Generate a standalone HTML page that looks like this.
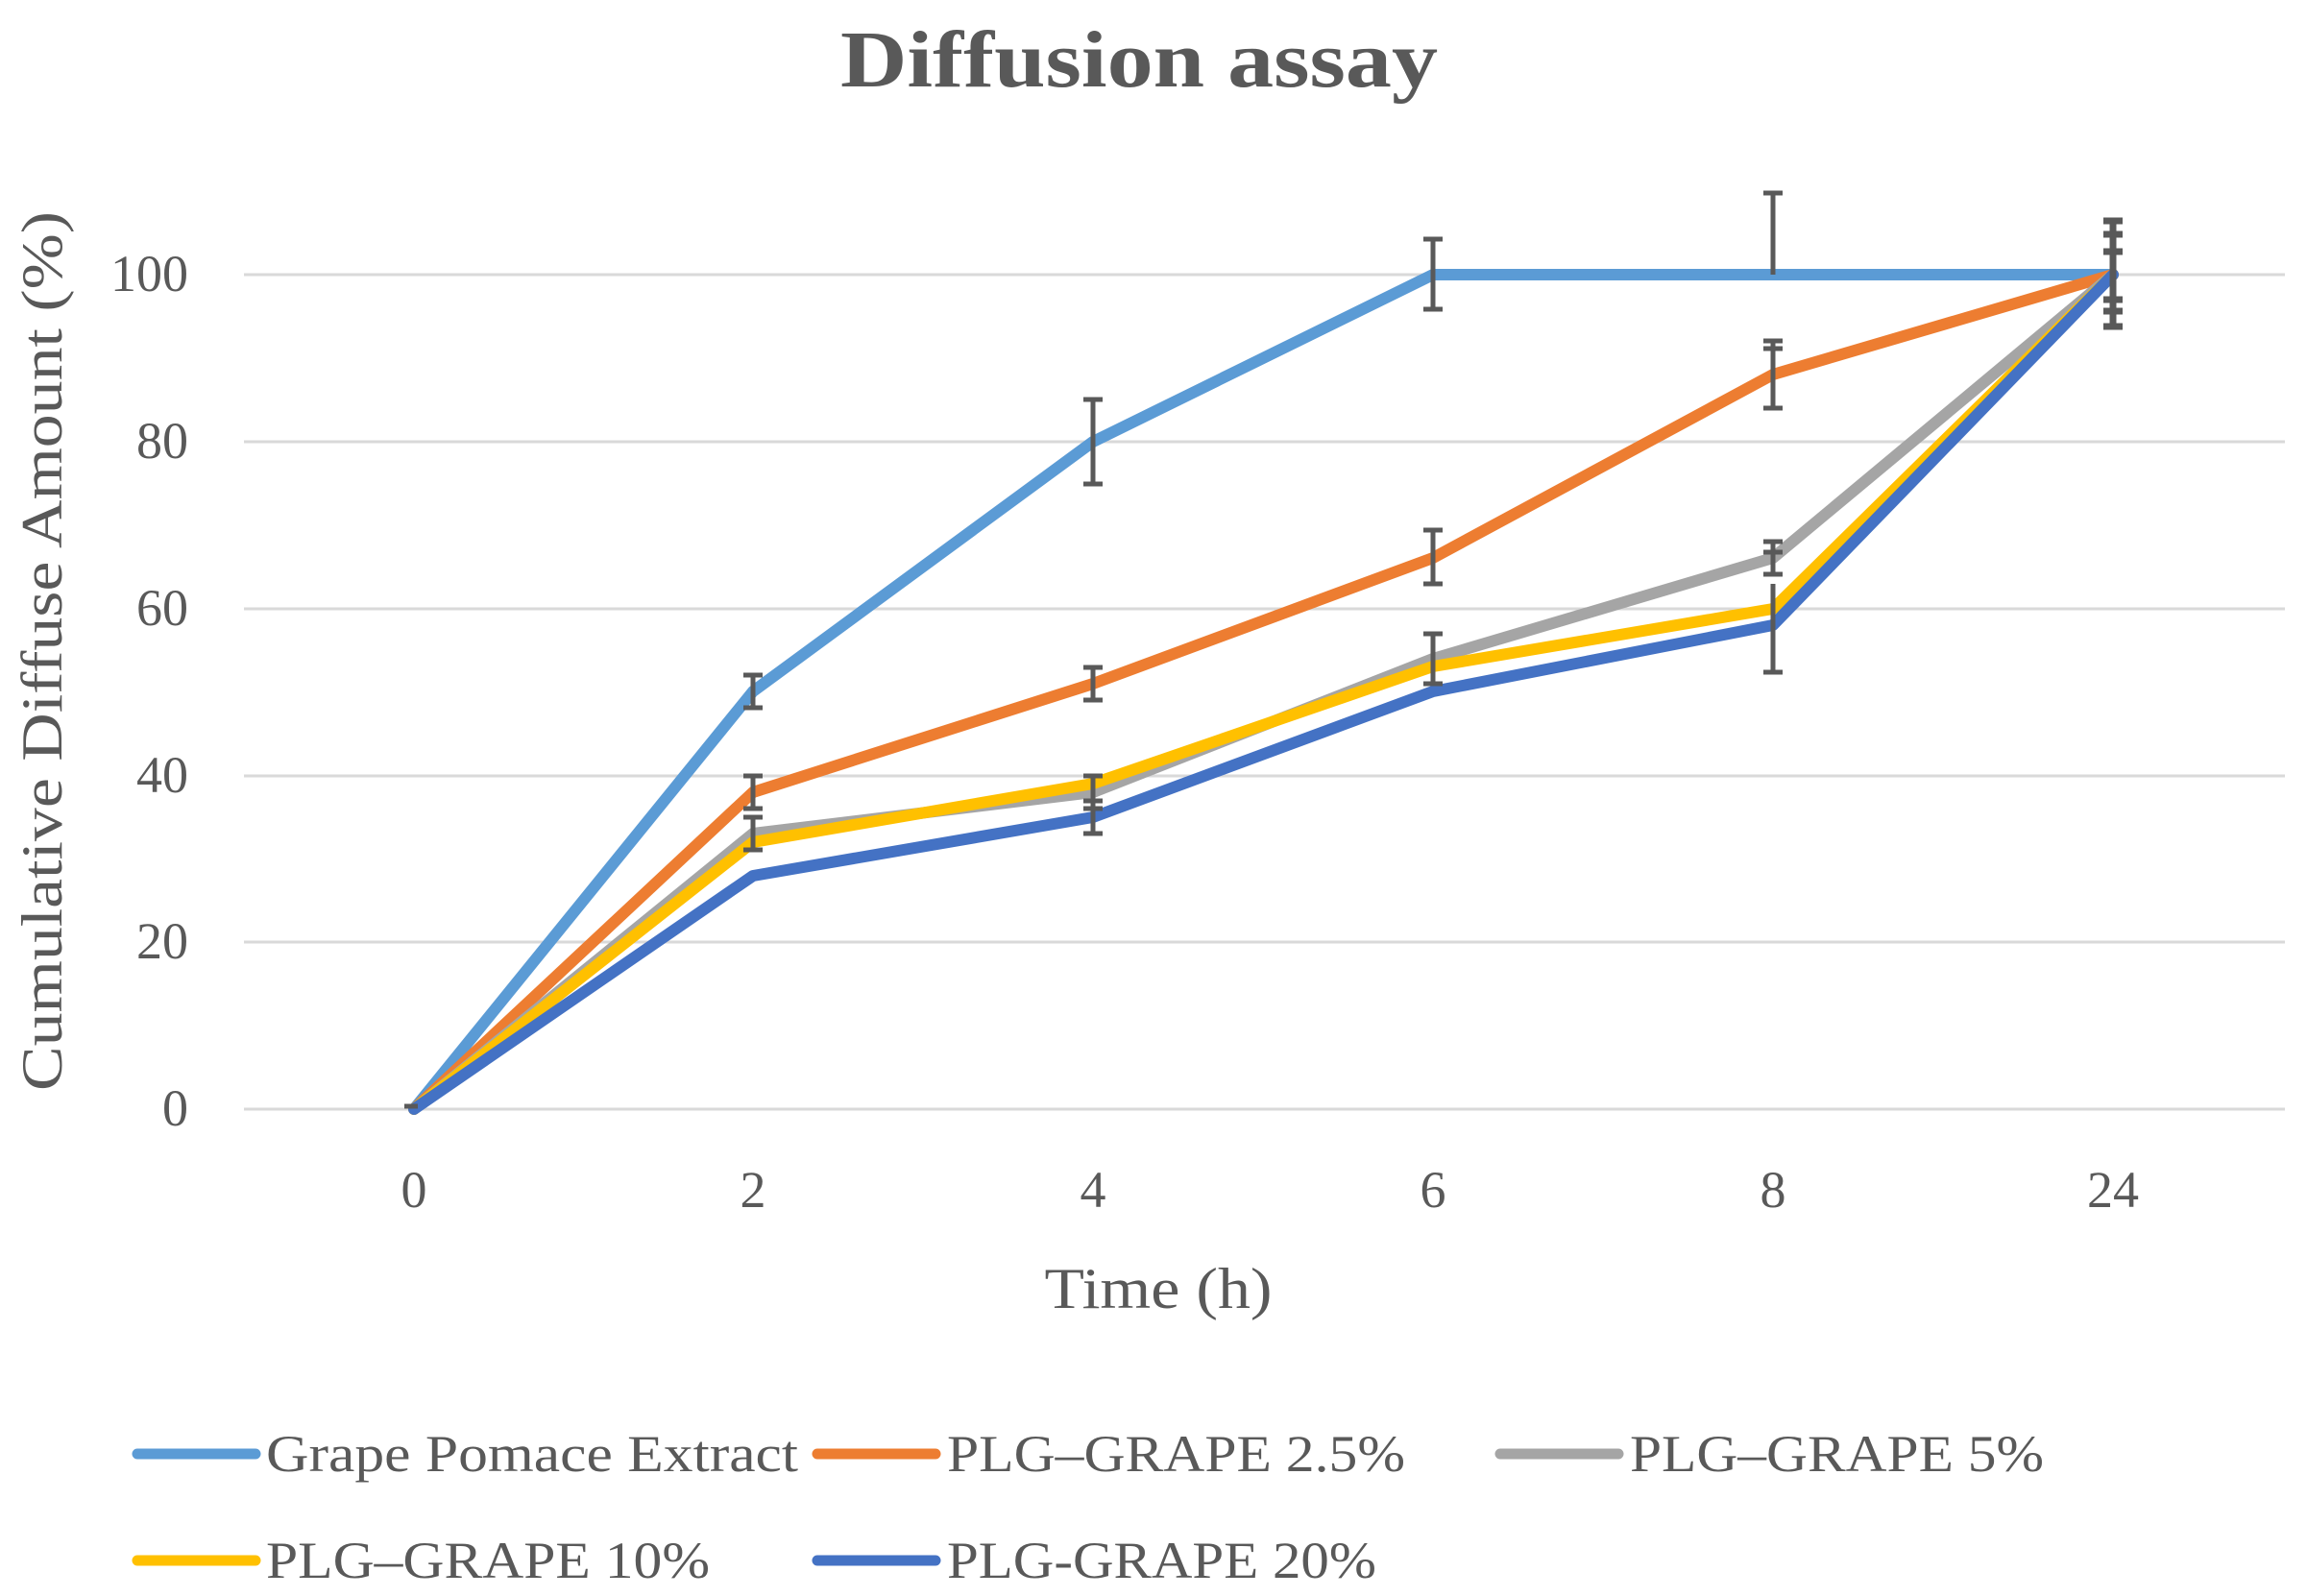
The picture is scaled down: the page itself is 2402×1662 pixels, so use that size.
<!DOCTYPE html>
<html><head><meta charset="utf-8"><style>body{margin:0;background:#fff}</style></head><body>
<svg width="2402" height="1657" xmlns="http://www.w3.org/2000/svg" font-family="Liberation Serif, serif" fill="#595959">
<text x="1186" y="90" font-size="84" font-weight="bold" text-anchor="middle" textLength="622" lengthAdjust="spacingAndGlyphs">Diffusion assay</text>
<g stroke="#d9d9d9" stroke-width="3">
<line x1="254" x2="2379" y1="286" y2="286"/><line x1="254" x2="2379" y1="460" y2="460"/><line x1="254" x2="2379" y1="634" y2="634"/><line x1="254" x2="2379" y1="808" y2="808"/><line x1="254" x2="2379" y1="981" y2="981"/><line x1="254" x2="2379" y1="1155" y2="1155"/>
</g>
<g font-size="54" text-anchor="end">
<text x="196" y="303">100</text><text x="196" y="477">80</text><text x="196" y="651">60</text><text x="196" y="825">40</text><text x="196" y="998">20</text><text x="196" y="1172">0</text>
</g>
<g font-size="54" text-anchor="middle">
<text x="431" y="1257">0</text><text x="784" y="1257">2</text><text x="1138" y="1257">4</text><text x="1492" y="1257">6</text><text x="1846" y="1257">8</text><text x="2200" y="1257">24</text>
</g>
<text x="1206" y="1362" font-size="60" text-anchor="middle" textLength="237" lengthAdjust="spacingAndGlyphs">Time (h)</text>
<text transform="translate(64,678) rotate(-90)" font-size="60" text-anchor="middle" textLength="916" lengthAdjust="spacingAndGlyphs">Cumulative Diffuse Amount (%)</text>
<g fill="none" stroke-width="12" stroke-linejoin="round" stroke-linecap="round">
<polyline stroke="#5B9BD5" points="431,1155 784,720 1138,460 1492,286 1846,286 2200,286"/>
<polyline stroke="#ED7D31" points="431,1155 784,825 1138,712 1492,581 1846,390 2200,286"/>
<polyline stroke="#A5A5A5" points="431,1155 784,868 1138,825 1492,686 1846,581 2200,286"/>
<polyline stroke="#FFC000" points="431,1155 784,877 1138,816 1492,694 1846,634 2200,286"/>
<polyline stroke="#4472C4" points="431,1155 784,912 1138,851 1492,720 1846,651 2200,286"/>
</g>
<g stroke="#595959" stroke-width="5" fill="none">
<path d="M784,703v34M774,703h20M774,737h20"/>
<path d="M1138,416v88M1128,416h20M1128,504h20"/>
<path d="M1492,249v73M1482,249h20M1482,322h20"/>
<path d="M1846,201v85M1836,201h20"/>
<path d="M784,808v34M774,808h20M774,842h20"/>
<path d="M1138,695v34M1128,695h20M1128,729h20"/>
<path d="M1492,552v56M1482,552h20M1482,608h20"/>
<path d="M1846,355v70M1836,355h20M1836,425h20M1836,363h20"/>
<path d="M784,851v34M774,851h20M774,885h20"/>
<path d="M1138,808v34M1128,808h20M1128,842h20"/>
<path d="M1492,660v52M1482,660h20M1482,712h20"/>
<path d="M1846,564v34M1836,564h20M1836,598h20M1836,575h20"/>
<path d="M1138,834v34M1128,834h20M1128,868h20"/>
<path d="M1846,608v92M1836,700h20"/>
<path d="M2200,230v110M2190,230h20M2190,340h20M2190,244h20M2190,324h20M2190,262h20M2190,312h20" stroke-width="7"/>
<path d="M421,1152h14"/>
</g>
<g stroke-width="11" stroke-linecap="round">
<line x1="143" x2="266" y1="1514" y2="1514" stroke="#5B9BD5"/>
<line x1="851" x2="974" y1="1514" y2="1514" stroke="#ED7D31"/>
<line x1="1562" x2="1685" y1="1514" y2="1514" stroke="#A5A5A5"/>
<line x1="143" x2="266" y1="1625" y2="1625" stroke="#FFC000"/>
<line x1="851" x2="974" y1="1625" y2="1625" stroke="#4472C4"/>
</g>
<g font-size="54">
<text x="277" y="1532" textLength="554" lengthAdjust="spacingAndGlyphs">Grape Pomace Extract</text>
<text x="986" y="1532" textLength="477" lengthAdjust="spacingAndGlyphs">PLG–GRAPE 2.5%</text>
<text x="1697" y="1532" textLength="431" lengthAdjust="spacingAndGlyphs">PLG–GRAPE 5%</text>
<text x="277" y="1643" textLength="462" lengthAdjust="spacingAndGlyphs">PLG–GRAPE 10%</text>
<text x="986" y="1643" textLength="447" lengthAdjust="spacingAndGlyphs">PLG-GRAPE 20%</text>
</g>
</svg>
</body></html>
